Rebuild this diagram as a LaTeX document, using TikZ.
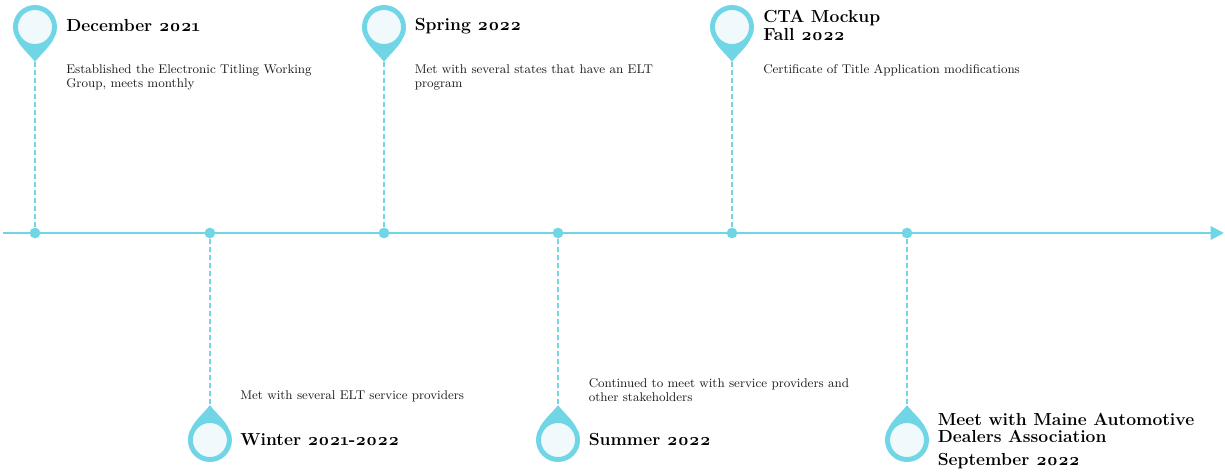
\documentclass[tikz,border=0pt]{standalone}
\usepackage{fontspec}
\setmainfont{Latin Modern Roman}[Numbers=OldStyle]
\usepackage{tikz}
\usetikzlibrary{calc, positioning, arrows.meta}
\definecolor{pincol}{HTML}{70D6E6}
\definecolor{pinfill}{HTML}{F0F9FB}
\definecolor{bodycol}{HTML}{1C1C1C}
\tikzset{
  axisline/.style={draw=pincol, line width=1.5pt, -{Triangle[length=10pt,width=10pt]}},
  stem/.style={draw=pincol, line width=1pt, dash pattern=on 3.75pt off 2.25pt},
  dot/.style={circle, fill=pincol, minimum size=8pt, inner sep=0pt},
  pinbody/.style={circle, draw=pincol, fill=pinfill, line width=3.7pt, minimum size=29.3pt, inner sep=0pt},
  title/.style={anchor=west, inner sep=0pt, align=left, font=\fontsize{13.1}{13}\selectfont\bfseries, text=black},
  body/.style={anchor=west, inner sep=0pt, align=left, font=\fontsize{9.5}{10.5}\selectfont, text=bodycol},
  pinshape/.pic={
    \fill[pincol] (0,0) .. controls (-4,-6) and (-13,-13) .. (-18,-22) -- (18,-22) .. controls (13,-13) and (4,-6) .. (0,0);
    \node[pinbody] at (0,-35) {};
  }
}
\begin{document}
\begin{tikzpicture}[x=0.75pt, y=-0.75pt]
  \useasboundingbox (0,0) rectangle (1225,474);
  % axis %
  \coordinate (start) at (3,233);
  \coordinate (end) at (1224,233);
  \draw[axisline] (start) -- (end);

  % nodes %
  \node[dot] (dec) at (35,233) {};
  \node[dot] (win) at (209.9,233) {};
  \node[dot] (spr) at (384,233) {};
  \node[dot] (sum) at (558,233) {};
  \node[dot] (cta) at (732,233) {};
  \node[dot] (sep) at (907,233) {};

  % pin tips %
  \coordinate (dectip) at (35,62);
  \coordinate (wintip) at (209.9,405);
  \coordinate (sprtip) at (384,62);
  \coordinate (sumtip) at (558,405);
  \coordinate (ctatip) at (732,62);
  \coordinate (septip) at (907,405);

  % edges %
  \draw[stem] (dec) -- (dectip);
  \draw[stem] (win) -- (wintip);
  \draw[stem] (spr) -- (sprtip);
  \draw[stem] (sum) -- (sumtip);
  \draw[stem] (cta) -- (ctatip);
  \draw[stem] (sep) -- (septip);

  % pins %
  \pic at (dectip) {pinshape};
  \pic[rotate=180] at (wintip) {pinshape};
  \pic at (sprtip) {pinshape};
  \pic[rotate=180] at (sumtip) {pinshape};
  \pic at (ctatip) {pinshape};
  \pic[rotate=180] at (septip) {pinshape};

  % labels %
  \node[title] (dectitle) at (66,26) {December 2021};
  \node[body] (dectext) at (66,77.5) {Established the Electronic Titling Working\\Group, meets monthly};
  \node[title] (sprtitle) at (414.5,26) {Spring 2022};
  \node[body] (sprtext) at (414.5,77.5) {Met with several states that have an ELT\\program};
  \node[title] (ctatitle) at (763,25.5) {CTA Mockup\\Fall 2022};
  \node[body] (ctatext) at (763,70.5) {Certificate of Title Application modifications};
  \node[body] (wintext) at (240,396) {Met with several ELT service providers};
  \node[title] (wintitle) at (240,440) {Winter 2021-2022};
  \node[body] (sumtext) at (588.5,390) {Continued to meet with service providers and\\other stakeholders};
  \node[title] (sumtitle) at (588.5,440) {Summer 2022};
  \node[title] (septitle) at (937.5,428) {Meet with Maine Automotive\\Dealers Association};
  \node[title] (sepdate) at (937.5,461) {September 2022};
\end{tikzpicture}
\end{document}
